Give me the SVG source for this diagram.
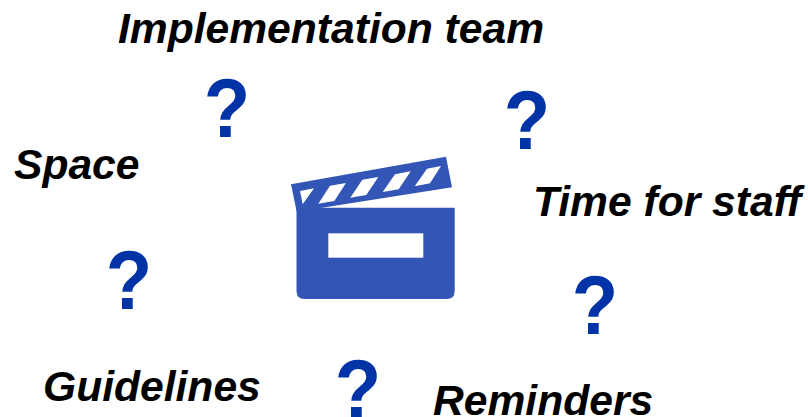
<svg xmlns="http://www.w3.org/2000/svg" width="808" height="417" viewBox="0 0 808 417">
<style>
.l{font-family:"Liberation Sans",Arial,sans-serif;font-weight:700;font-style:italic;font-size:42.6px;fill:#000}
.q{font-family:"Liberation Sans",Arial,sans-serif;font-weight:700;font-size:76px;fill:#0033a6;text-anchor:middle}
</style>
<rect width="808" height="417" fill="#fff"/>
<g id="clapper">
<path d="M296.5 207.7H454.7V291Q454.7 299 446.7 299H304.5Q296.5 299 296.5 291Z" fill="#3355b5"/>
<rect x="328.3" y="233.3" width="95" height="24.4" fill="#fff"/>
<path d="M291 184.3L446 156.7L452 187.3L296.7 211.7Z" fill="#3355b5"/>
<path d="M300 191L314 188.3L302.7 204.3ZM330 185.7L346 183L334.3 201L318.3 203.7ZM362.3 179.7L378.3 177L366.3 195L350.3 197.7ZM395 174.3L410.7 171.3L398.7 189.3L382.7 192ZM427 168.7L441 166L430 183.3L414.7 186.3Z" fill="#fff"/>
</g>
<text class="l" x="118" y="43">Implementation team</text>
<text class="l" x="14" y="179">Space</text>
<text class="l" x="533" y="216">Time for staff</text>
<text class="l" x="43" y="401">Guidelines</text>
<text class="l" x="433" y="415">Reminders</text>
<text class="q" transform="translate(227 137) scale(1 1.09)">?</text>
<text class="q" transform="translate(527 149) scale(1 1.09)">?</text>
<text class="q" transform="translate(129 309) scale(1 1.09)">?</text>
<text class="q" transform="translate(595 334) scale(1 1.09)">?</text>
<text class="q" transform="translate(358 418) scale(1 1.09)">?</text>
</svg>
